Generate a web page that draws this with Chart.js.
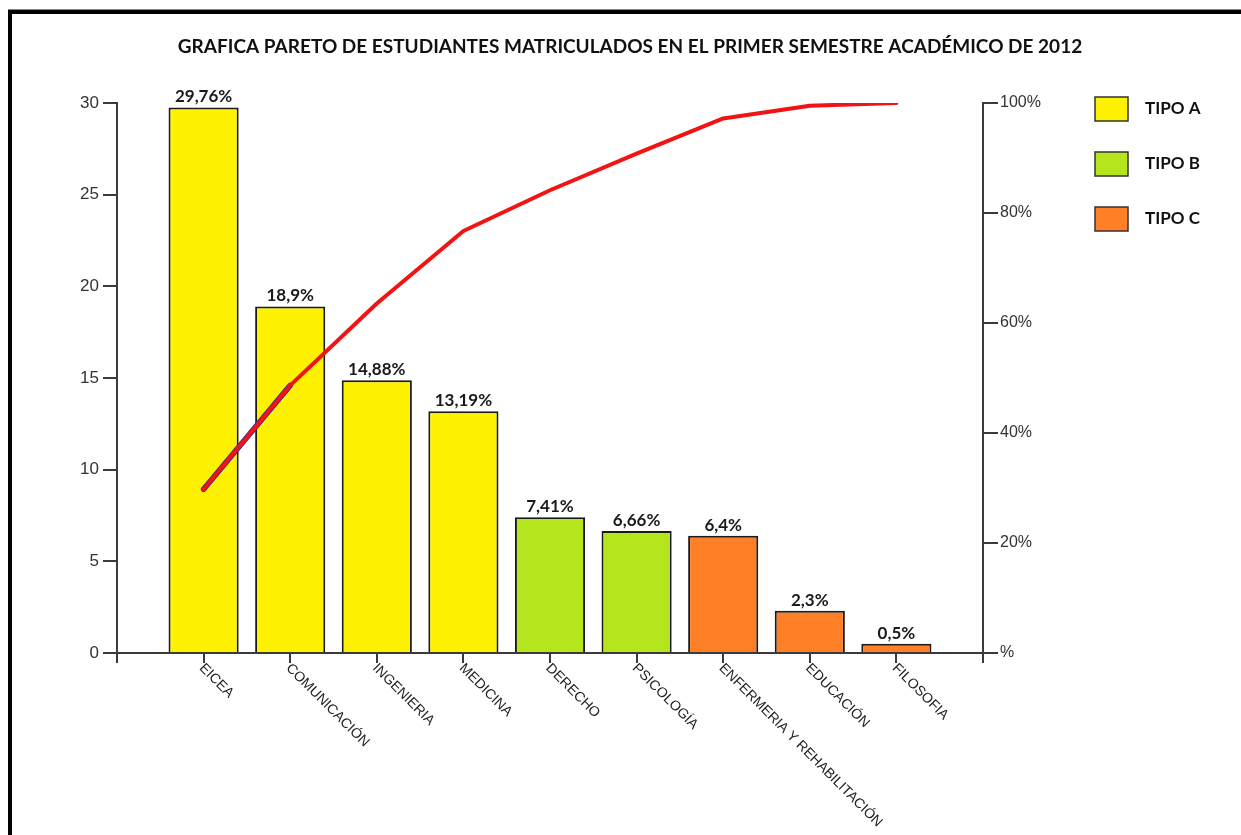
<!DOCTYPE html>
<html><head><meta charset="utf-8">
<script src="https://cdn.jsdelivr.net/npm/chart.js@4.4.1/dist/chart.umd.min.js"></script>
<style>html,body{margin:0;padding:0;background:#fff;} canvas{display:block;}</style>
</head><body>
<canvas id="c" width="1241" height="835"></canvas>
<script>
const titleText = 'GRAFICA PARETO DE ESTUDIANTES MATRICULADOS EN EL PRIMER SEMESTRE ACADÉMICO DE 2012';
const categories = ['EICEA','COMUNICACIÓN','INGENIERIA','MEDICINA','DERECHO','PSICOLOGÍA','ENFERMERIA Y REHABILITACIÓN','EDUCACIÓN','FILOSOFIA'];
const percentages = [29.76, 18.9, 14.88, 13.19, 7.41, 6.66, 6.4, 2.3, 0.5];
const types = ['TIPO A','TIPO A','TIPO A','TIPO A','TIPO B','TIPO B','TIPO C','TIPO C','TIPO C'];
const cumulative = [29.76, 48.66, 63.54, 76.73, 84.14, 90.8, 97.2, 99.5, 100];
const typeNames = ['TIPO A','TIPO B','TIPO C'];
const typeColors = ['#FFF200','#B5E61D','#FF7F27'];
const rightTickLabels = ['%','20%','40%','60%','80%','100%'];

const pad = arr => [null, ...arr, null];
const labels = pad(categories).map(v => v === null ? '' : v);

const barDatasets = typeNames.map((t, k) => ({
  type: 'bar', label: t,
  data: pad(percentages.map((v, i) => types[i] === t ? v : null)),
  backgroundColor: typeColors[k], borderColor: '#1a1a1a', borderWidth: 2,
  grouped: false, barPercentage: 0.9, categoryPercentage: 0.9,
  yAxisID: 'y', order: 3
}));

const lineDataset = {
  type: 'line', label: 'Acumulado', data: pad(cumulative),
  borderColor: '#f21313', borderWidth: 4, pointRadius: 0, tension: 0,
  borderCapStyle: 'round', borderJoinStyle: 'round', yAxisID: 'y2', order: 1
};
const outlineDataset = {
  type: 'line', label: '_outline', data: pad(cumulative.map((v, i) => i < 2 ? v : null)),
  borderColor: '#2a2aa0', borderWidth: 5.5, pointRadius: 0, tension: 0,
  borderCapStyle: 'round', yAxisID: 'y2', order: 2, spanGaps: false
};

const frame = {
  id: 'frame',
  beforeDraw(chart) {
    const c = chart.ctx;
    c.save();
    c.fillStyle = '#888'; c.fillRect(8, 9, chart.width - 8, 1);
    c.fillStyle = '#000';
    c.fillRect(8, 10, chart.width - 8, 4);
    c.fillRect(8, 10, 4, chart.height - 10);
    c.restore();
  }
};

const valueLabels = {
  id: 'valueLabels',
  afterDatasetsDraw(chart) {
    const c = chart.ctx;
    c.save();
    c.font = 'bold 17px Lato, "Open Sans", sans-serif';
    c.fillStyle = '#1a1a1a';
    c.textAlign = 'center'; c.textBaseline = 'bottom';
    chart.data.datasets.forEach((ds, di) => {
      if (ds.type !== 'bar') return;
      const meta = chart.getDatasetMeta(di);
      ds.data.forEach((v, i) => {
        if (v === null) return;
        const el = meta.data[i];
        c.fillText(String(v).replace('.', ',') + '%', el.x, el.y - 2);
      });
    });
    c.restore();
  }
};

const xLabels = {
  id: 'xLabels',
  afterDraw(chart) {
    const c = chart.ctx;
    const xs = chart.scales.x;
    const y0 = chart.chartArea.bottom + 13;
    c.save();
    c.font = '14px "Liberation Sans", Arial, sans-serif';
    c.fillStyle = '#222';
    c.textAlign = 'left'; c.textBaseline = 'middle';
    labels.forEach((lab, i) => {
      if (!lab) return;
      const x = xs.getPixelForValue(i);
      c.save();
      c.translate(x - 2, y0);
      c.rotate(Math.PI / 4);
      c.fillText(lab, 0, 0);
      c.restore();
    });
    c.restore();
  }
};

const customLegend = {
  id: 'customLegend',
  afterDraw(chart) {
    const c = chart.ctx;
    c.save();
    c.font = 'bold 17px Lato, "Open Sans", sans-serif';
    c.textAlign = 'left'; c.textBaseline = 'middle';
    typeNames.forEach((t, k) => {
      const top = 97 + k * 55;
      c.fillStyle = typeColors[k];
      c.fillRect(1095, top, 33, 24);
      c.strokeStyle = '#333'; c.lineWidth = 1.5;
      c.strokeRect(1095, top, 33, 24);
      c.fillStyle = '#111';
      c.fillText(t, 1145, top + 12);
    });
    c.restore();
  }
};

function build() {
  new Chart(document.getElementById('c'), {
    data: { labels, datasets: [lineDataset, outlineDataset, ...barDatasets] },
    options: {
      responsive: false, animation: false, devicePixelRatio: 1,
      layout: { padding: { left: 19, right: 0, top: 0, bottom: 0 } },
      plugins: {
        legend: { display: false },
        tooltip: { enabled: false },
        title: {
          display: true, text: titleText, color: '#111',
          font: { family: 'Lato, "Open Sans", sans-serif', size: 19, weight: 'bold', lineHeight: 1.2 },
          padding: { top: 35, bottom: 45.2 }
        }
      },
      scales: {
        x: {
          type: 'category', offset: false,
          grid: { offset: false, drawOnChartArea: false, drawTicks: true, tickLength: 10, color: '#3a3a3a', lineWidth: 2 },
          border: { display: true, color: '#3a3a3a', width: 2 },
          ticks: { display: false, autoSkip: false },
          afterFit(s) { s.height = 182; }
        },
        y: {
          position: 'left', min: 0, max: 30,
          grid: { drawOnChartArea: false, drawTicks: true, tickLength: 14, color: '#3a3a3a', lineWidth: 2 },
          border: { display: true, color: '#3a3a3a', width: 2 },
          ticks: { stepSize: 5, padding: 4, color: '#333', font: { family: '"Liberation Sans", Arial, sans-serif', size: 17 } },
          afterFit(s) { s.width = 98; }
        },
        y2: {
          position: 'right', min: 0, max: 100,
          grid: { drawOnChartArea: false, drawTicks: true, tickLength: 15, color: '#3a3a3a', lineWidth: 2 },
          border: { display: true, color: '#3a3a3a', width: 2 },
          ticks: { stepSize: 20, padding: 2, color: '#333', font: { family: '"Liberation Sans", Arial, sans-serif', size: 16 },
                   callback: (v) => rightTickLabels[Math.round(v / 20)] },
          afterFit(s) { s.width = 258; }
        }
      }
    },
    plugins: [frame, valueLabels, xLabels, customLegend]
  });
}
if (document.fonts && document.fonts.load) {
  Promise.all([
    document.fonts.load('bold 18px Lato'),
    document.fonts.load('16px "Liberation Sans"')
  ]).then(build, build);
} else { build(); }
</script>
</body></html>
